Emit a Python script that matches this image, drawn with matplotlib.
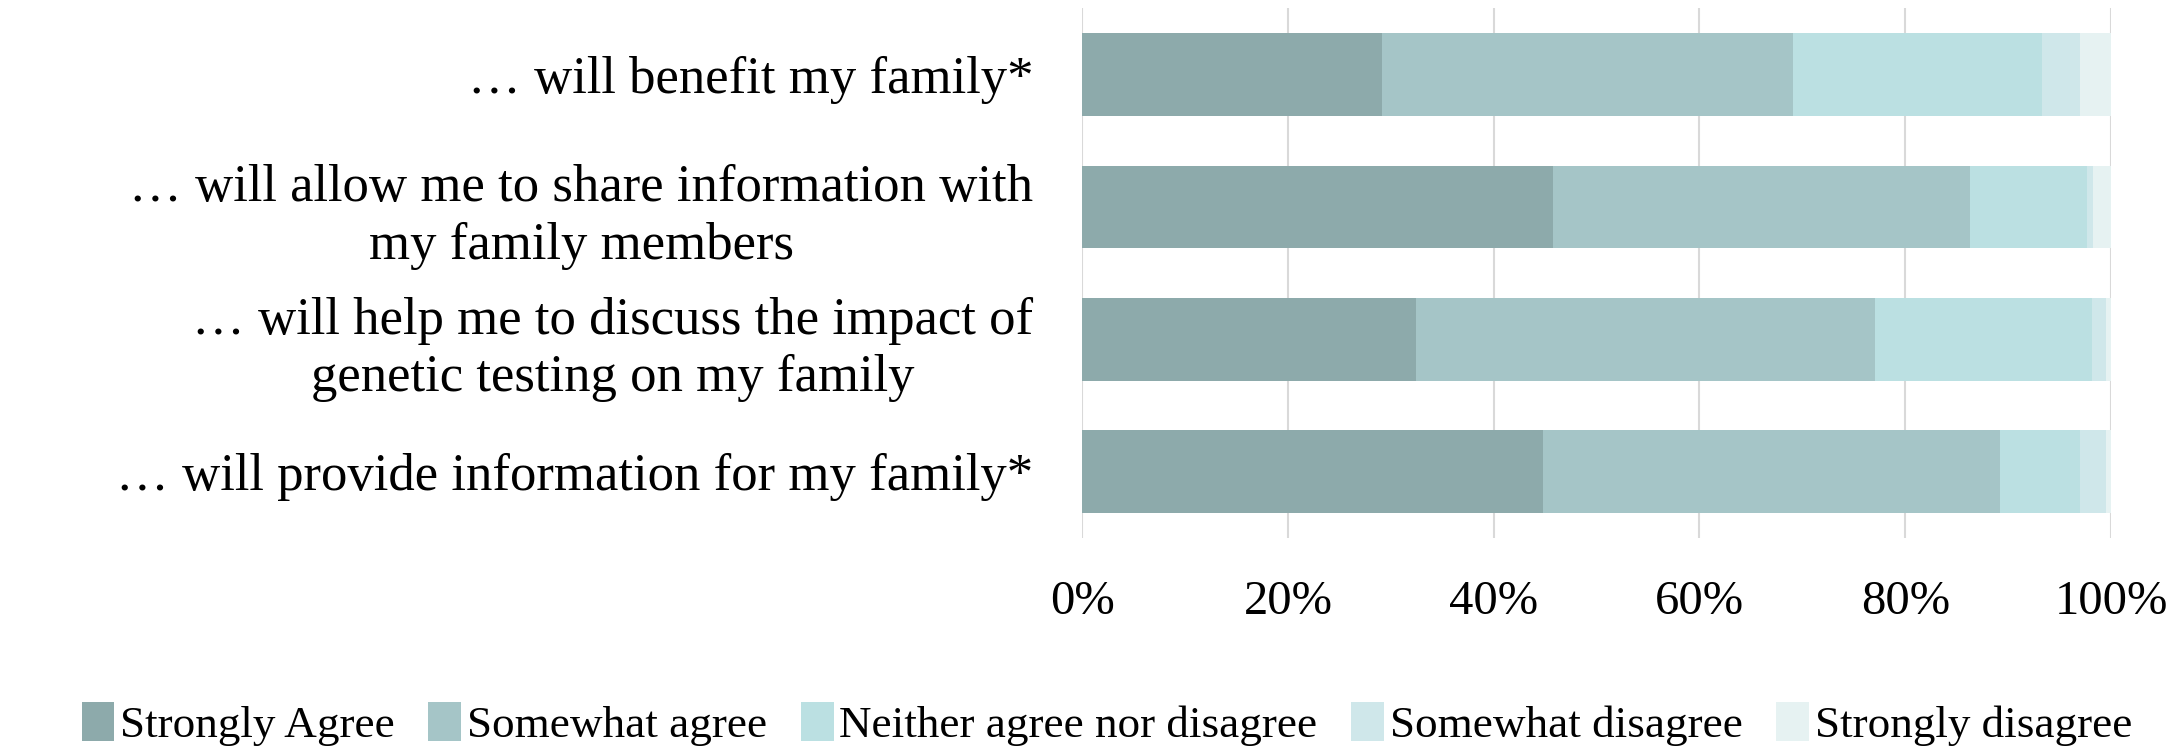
import matplotlib.pyplot as plt
import numpy as np

# Daten (Anteile in %)
statements = ['\u2026 will benefit my family*',
              '\u2026 will allow me to share information with\nmy family members',
              '\u2026 will help me to discuss the impact of\ngenetic testing on my family',
              '\u2026 will provide information for my family*']
responses = ['Strongly Agree', 'Somewhat agree', 'Neither agree nor disagree',
             'Somewhat disagree', 'Strongly disagree']
strongly_agree = [29.1, 45.8, 32.5, 44.8]
somewhat_agree = [40.0, 40.5, 44.6, 44.4]
neither = [24.2, 11.4, 21.1, 7.8]
somewhat_disagree = [3.7, 0.6, 1.3, 2.5]
strongly_disagree = [3.0, 1.7, 0.5, 0.5]
colors = ['#8daaab', '#a5c5c7', '#bbe0e2', '#cfe7ea', '#e6f2f2']

plt.rcParams['font.family'] = ['Liberation Serif', 'DejaVu Serif']

fig = plt.figure(figsize=(21.83, 7.54), dpi=100)
ax = fig.add_axes([0.4957, 0.2865, 0.4713, 0.7025])

series = [strongly_agree, somewhat_agree, neither, somewhat_disagree, strongly_disagree]
y = np.arange(len(statements))
left = np.zeros(len(statements))
for vals, lab, col in zip(series, responses, colors):
    ax.barh(y, vals, left=left, height=0.625, color=col, label=lab, zorder=3)
    left = left + np.array(vals)

ax.set_xlim(0, 100)
ax.set_ylim(3.5, -0.5)
ax.set_xticks(np.arange(0, 101, 20))
ax.set_xticklabels(['{}%'.format(v) for v in range(0, 101, 20)], fontsize=35)
ax.set_yticks(y)
ax.set_yticklabels(statements, fontsize=38, multialignment='center', linespacing=1.25)
ax.tick_params(axis='both', length=0)
ax.tick_params(axis='y', pad=35)
ax.tick_params(axis='x', pad=30)
for s in ax.spines.values():
    s.set_visible(False)
ax.grid(True, axis='x', color='#d9d9d9', linewidth=1.5, zorder=0)

fig.legend(loc='center', bbox_to_anchor=(0.507, 0.04), ncol=5, frameon=False,
           fontsize=32.5, handlelength=0.73, handleheight=0.95,
           handletextpad=0.12, columnspacing=0.75)

fig.savefig('out.png', dpi=100)
